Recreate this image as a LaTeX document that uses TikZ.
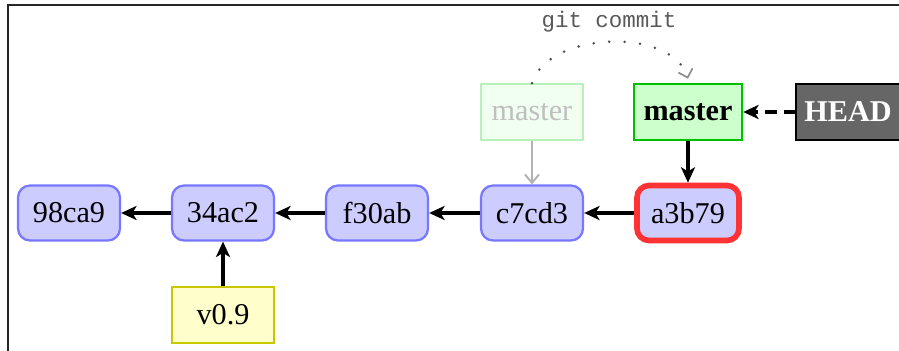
\documentclass[tikz,border=0pt]{standalone}
\usepackage{fontspec}
\setmainfont{Liberation Serif}
\setmonofont{Liberation Mono}
\usepackage{tikz}
\usetikzlibrary{arrows.meta}
\definecolor{commitfill}{HTML}{CCCCFF}
\definecolor{commitdraw}{HTML}{7777FF}
\definecolor{branchfill}{HTML}{CCFFCC}
\definecolor{branchdraw}{HTML}{00C000}
\definecolor{oldfill}{HTML}{F0FFF0}
\definecolor{olddraw}{HTML}{B8F0B8}
\definecolor{tagfill}{HTML}{FFFFCC}
\definecolor{tagdraw}{HTML}{C8C800}
\definecolor{headfill}{HTML}{666666}
\definecolor{newdraw}{HTML}{FF3333}

\tikzset{
  commit/.style={draw=commitdraw, fill=commitfill, line width=1.6pt, rounded corners=0.3cm,
    minimum width=2.55cm, minimum height=1.375cm, font=\fontsize{21.5}{25}\selectfont},
  branch/.style={draw=branchdraw, fill=branchfill, line width=1.6pt,
    minimum width=2.7cm, minimum height=1.4cm, font=\fontsize{21.5}{25}\selectfont\bfseries},
  oldbranch/.style={draw=olddraw, fill=oldfill, line width=1.2pt, text=black!25,
    minimum width=2.55cm, minimum height=1.4cm, font=\fontsize{21.5}{25}\selectfont},
  tag/.style={draw=tagdraw, fill=tagfill, line width=1.6pt,
    minimum width=2.55cm, minimum height=1.4cm, font=\fontsize{21.5}{25}\selectfont},
  headbox/.style={draw=black, fill=headfill, line width=1.6pt, text=white,
    minimum width=2.6cm, minimum height=1.4cm, font=\fontsize{21.5}{25}\selectfont\bfseries},
  link/.style={line width=2.4pt, -{Stealth[length=11pt,width=10pt,inset=3pt]}}
}

\begin{document}
\begin{tikzpicture}
  \useasboundingbox (0,0) rectangle (22.475,8.775);
  \draw[line width=0.9pt, black!85] (0.2,0) -- (0.2,8.65) -- (22.475,8.65);

  % commits
  \node[commit] (c98ca9) at (1.725,3.45) {98ca9};
  \node[commit] (c34ac2) at (5.575,3.45) {34ac2};
  \node[commit] (cf30ab) at (9.425,3.45) {f30ab};
  \node[commit] (cc7cd3) at (13.3,3.45) {c7cd3};
  \node[commit, draw=newdraw, line width=4pt] (ca3b79) at (17.2,3.45) {a3b79};

  % refs
  \node[tag] (v09) at (5.575,0.9) {v0.9};
  \node[oldbranch] (oldmaster) at (13.3,5.975) {master};
  \node[branch] (master) at (17.2,5.975) {master};
  \node[headbox] (head) at (21.2,5.975) {HEAD};
  \node[font=\ttfamily\fontsize{16}{19}\selectfont, text=black!65] (gitcommit) at (15.225,8.225) {git commit};

  \draw[link] (c34ac2) -- (c98ca9);
  \draw[link] (cf30ab) -- (c34ac2);
  \draw[link] (cc7cd3) -- (cf30ab);
  \draw[link] (ca3b79) -- (cc7cd3);
  \draw[link] (v09) -- (c34ac2);
  \draw[link] (master) -- (ca3b79);
  \draw[link, dash pattern=on 8pt off 5pt] (head) -- (master);
  \draw[line width=1.4pt, black!30, -{Straight Barb[length=6pt,width=10pt]}] (oldmaster) -- (cc7cd3);
  \draw[line width=2pt, black!70, line cap=round, dash pattern=on 0pt off 11pt,
      -{Straight Barb[length=5pt,width=10pt,line cap=round,line width=1.2pt,black!45]}]
    (oldmaster.north) .. controls +(0.4,1.3) and +(-0.4,1.3) .. ([yshift=3pt]master.north);
\end{tikzpicture}
\end{document}
